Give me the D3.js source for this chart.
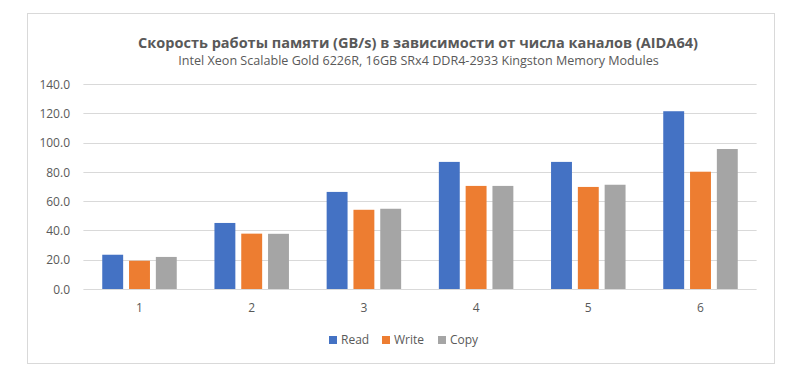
<!DOCTYPE html>
<html>
<head>
<meta charset="utf-8">
<script src="https://cdn.jsdelivr.net/npm/d3@7"></script>
<style>
  html, body { margin: 0; padding: 0; background: #fff; }
  svg { display: block; }
</style>
</head>
<body>
<svg id="chart" width="800" height="375"></svg>
<script>
const categories = ["1", "2", "3", "4", "5", "6"];
const seriesNames = ["Read", "Write", "Copy"];
const readValues  = [23.4, 45.1, 66.3, 86.8, 86.8, 121.4];
const writeValues = [19.3, 37.8, 54.1, 70.4, 69.7, 80.1];
const copyValues  = [21.9, 37.7, 54.8, 70.4, 71.2, 95.6];
const yTicks = [0, 20, 40, 60, 80, 100, 120, 140];
const colors = ["#4472C4", "#ED7D31", "#A5A5A5"];
const titleText = "Скорость работы памяти (GB/s) в зависимости от числа каналов (AIDA64)";
const subtitleText = "Intel Xeon Scalable Gold 6226R, 16GB SRx4 DDR4-2933 Kingston Memory Modules";

const series = [readValues, writeValues, copyValues];
const svg = d3.select("#chart");
const font = "'Open Sans', 'Noto Sans', sans-serif";
const textColor = "#595959";

// chart border
svg.append("rect").attr("x", 27.5).attr("y", 13.5).attr("width", 747).attr("height", 350)
  .attr("fill", "#fff").attr("stroke", "#D9D9D9").attr("stroke-width", 1);

const x0 = d3.scaleBand().domain(categories).range([83.4, 756.6]).padding(0);
const x1 = d3.scaleBand().domain(seriesNames).range([0, 74.5]).paddingInner(0.22);
const y = d3.scaleLinear().domain([0, 140]).range([289, 84]);

// gridlines
svg.append("g").selectAll("line").data(yTicks).join("line")
  .attr("x1", 83.4).attr("x2", 756.6)
  .attr("y1", d => Math.round(y(d)) + 0.5).attr("y2", d => Math.round(y(d)) + 0.5)
  .attr("stroke", "#D9D9D9").attr("stroke-width", 1);

// y axis labels
const yAxis = d3.axisLeft(y).tickValues(yTicks).tickFormat(d3.format(".1f")).tickSize(0).tickPadding(0);
const yg = svg.append("g").attr("transform", "translate(70,0)").call(yAxis);
yg.select(".domain").remove();
yg.selectAll("text").attr("font-family", font).attr("font-size", 12).attr("fill", textColor).attr("dy", "0.35em");

// bars
const groupOffset = (x0.bandwidth() - 74.5) / 2;
const groups = svg.append("g").selectAll("g").data(categories).join("g")
  .attr("transform", c => `translate(${x0(c) + groupOffset},0)`);
groups.selectAll("rect").data((c, i) => seriesNames.map((s, j) => ({ s, j, v: series[j][i] })))
  .join("rect")
  .attr("x", d => x1(d.s))
  .attr("width", x1.bandwidth())
  .attr("y", d => y(d.v))
  .attr("height", d => y(0) - y(d.v))
  .attr("fill", d => colors[d.j]);

// x axis labels
const xAxis = d3.axisBottom(x0).tickSize(0).tickPadding(0);
const xg = svg.append("g").attr("transform", "translate(0,303)").call(xAxis);
xg.select(".domain").remove();
xg.selectAll("text").attr("font-family", font).attr("font-size", 12).attr("fill", textColor).attr("dy", "0.71em");

// title
const t = svg.append("text").attr("x", 418).attr("y", 48).attr("text-anchor", "middle")
  .attr("font-family", font).attr("font-weight", "bold").attr("font-size", 16).attr("fill", textColor)
  .text(titleText);
let w = t.node().getComputedTextLength();
t.attr("font-size", 16 * 560 / w);

const st = svg.append("text").attr("x", 418.5).attr("y", 65).attr("text-anchor", "middle")
  .attr("font-family", font).attr("font-size", 12).attr("fill", textColor)
  .text(subtitleText);
w = st.node().getComputedTextLength();
st.attr("font-size", 12 * 481 / w);

// legend
const legendX = [329, 382, 438];
const lg = svg.append("g").selectAll("g").data(seriesNames).join("g")
  .attr("transform", (d, i) => `translate(${legendX[i]},336)`);
lg.append("rect").attr("width", 8).attr("height", 8).attr("fill", (d, i) => colors[i]);
lg.append("text").attr("x", 12).attr("y", 4).attr("dy", "0.35em")
  .attr("font-family", font).attr("font-size", 12).attr("fill", textColor).text(d => d);
</script>
</body>
</html>
